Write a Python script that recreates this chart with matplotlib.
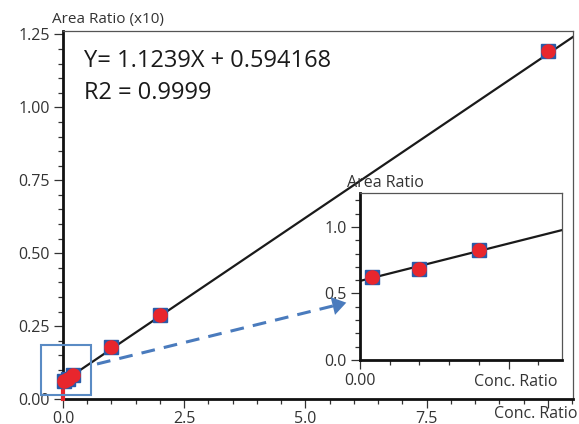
import matplotlib
matplotlib.use("Agg")
import matplotlib.pyplot as plt
from matplotlib.patches import Rectangle, FancyArrowPatch
from matplotlib.lines import Line2D
from matplotlib.ticker import MultipleLocator, FixedLocator
import numpy as np

plt.rcParams['font.family'] = ['Open Sans', 'DejaVu Sans']

# Data
conc_ratio = [0.02, 0.1, 0.2, 1.0, 2.0, 10.0]
area_ratio = [0.624, 0.684, 0.827, 1.78, 2.87, 11.92]
slope = 1.1239
intercept = 0.594168
eq_text = "Y= 1.1239X + 0.594168"
r2_text = "R2 = 0.9999"
main_yticks = [0.00, 0.25, 0.50, 0.75, 1.00, 1.25]
main_xticks = [0.0, 2.5, 5.0, 7.5]
inset_yticks = [0.0, 0.5, 1.0]

BLUE = '#2a5ba8'
RED = '#e8262d'
BOXBLUE = '#5a8bc4'
TXT = '#333333'

fig = plt.figure(figsize=(5.79, 4.24), dpi=100)
W, H = 579, 424

def ax_rect(l, t, r, b):
    return [l / W, 1 - b / H, (r - l) / W, (b - t) / H]

def style_axes(ax):
    for s in ['left', 'bottom']:
        ax.spines[s].set_linewidth(2.0)
        ax.spines[s].set_color('#111111')
    for s in ['top', 'right']:
        ax.spines[s].set_linewidth(0.9)
        ax.spines[s].set_color('#555555')
    ax.tick_params(which='major', direction='out', length=6.5, width=0.9,
                   color='#333333', labelcolor=TXT, labelsize=11.5, pad=3)
    ax.tick_params(which='minor', direction='out', length=3.5, width=0.9,
                   color='#333333')
    ax.tick_params(top=False, right=False)

# Main axes
ax = fig.add_axes(ax_rect(63, 31, 573, 399))
xmax = 10.52
ax.set_xlim(0, xmax)
ax.set_ylim(0, 1.262)
xs = np.array([0, xmax])
ax.plot(xs, (slope * xs + intercept) / 10, color='#1a1a1a', lw=1.6, zorder=2)
ax.plot([0, 0], [0, 0.062], color=RED, lw=3, zorder=3, clip_on=False)
ax.plot(conc_ratio, np.array(area_ratio) / 10, 's', color=BLUE, ms=10.5, zorder=4,
        clip_on=False)
ax.plot(conc_ratio, np.array(area_ratio) / 10, 'o', color=RED, ms=9.5, zorder=5,
        clip_on=False)
style_axes(ax)
ax.xaxis.set_major_locator(FixedLocator(main_xticks + [10.0]))
ax.set_xticklabels([f"{v:.1f}" for v in main_xticks] + [""])
ax.xaxis.set_minor_locator(MultipleLocator(0.5))
ax.tick_params(axis='x', which='major', pad=2)
ax.yaxis.set_major_locator(FixedLocator(main_yticks))
ax.set_yticklabels([f"{v:.2f}" for v in main_yticks])
ax.yaxis.set_minor_locator(MultipleLocator(0.05))
ax.text(578 / W, 1 - 414 / H, "Conc. Ratio", transform=fig.transFigure,
        ha='right', va='center', fontsize=11.5, color=TXT)
ax.text(52 / W, 1 - 20 / H, "Area Ratio (x10)", transform=fig.transFigure,
        ha='left', va='center', fontsize=11, color=TXT)
ax.text(84 / W, 1 - 61 / H, eq_text, transform=fig.transFigure,
        ha='left', va='center', fontsize=17, color='#1a1a1a')
ax.text(84 / W, 1 - 93 / H, r2_text, transform=fig.transFigure,
        ha='left', va='center', fontsize=17, color='#1a1a1a')

# zoom box
ax.add_patch(Rectangle((-0.45, 0.014), 1.03, 0.170, fill=False,
                       edgecolor=BOXBLUE, lw=1.5, clip_on=False, zorder=6))

# dashed arrow
x0, y0 = 97, H - 364
x1, y1 = 349, H - 302
dx, dy = x1 - x0, y1 - y0
L = np.hypot(dx, dy)
ux, uy = dx / L, dy / L
xe, ye = x1 - 10 * ux, y1 - 10 * uy
fig.add_artist(Line2D([x0 / W, xe / W], [y0 / H, ye / H], transform=fig.transFigure,
                      color='#4a7bbd', lw=2.2, linestyle=(0, (4.5, 3))))
fig.add_artist(FancyArrowPatch(
    (xe / W, ye / H), (x1 / W, y1 / H), transform=fig.transFigure,
    arrowstyle='-|>,head_length=0.5,head_width=0.33', mutation_scale=20,
    color='#4a7bbd', lw=0))

# Inset axes
axi = fig.add_axes(ax_rect(360, 193, 562, 360))
ixmax = 0.34
axi.set_xlim(0, ixmax)
axi.set_ylim(0, 1.255)
xi = np.array([0, ixmax])
axi.plot(xi, slope * xi + intercept, color='#1a1a1a', lw=1.6, zorder=2)
axi.plot(conc_ratio[:3], area_ratio[:3], 's', color=BLUE, ms=10.5, zorder=4)
axi.plot(conc_ratio[:3], area_ratio[:3], 'o', color=RED, ms=9.5, zorder=5)
style_axes(axi)
axi.xaxis.set_major_locator(FixedLocator([0.0, 0.25]))
axi.set_xticklabels(["0.00", ""])
axi.xaxis.set_minor_locator(MultipleLocator(0.05))
axi.yaxis.set_major_locator(FixedLocator(inset_yticks))
axi.set_yticklabels([f"{v:.1f}" for v in inset_yticks])
axi.yaxis.set_minor_locator(MultipleLocator(0.1))
axi.text(558 / W, 1 - 382 / H, "Conc. Ratio", transform=fig.transFigure,
         ha='right', va='center', fontsize=11.5, color=TXT)
axi.text(347 / W, 1 - 183 / H, "Area Ratio", transform=fig.transFigure,
         ha='left', va='center', fontsize=11.5, color=TXT)

fig.savefig("out.png", dpi=100)
